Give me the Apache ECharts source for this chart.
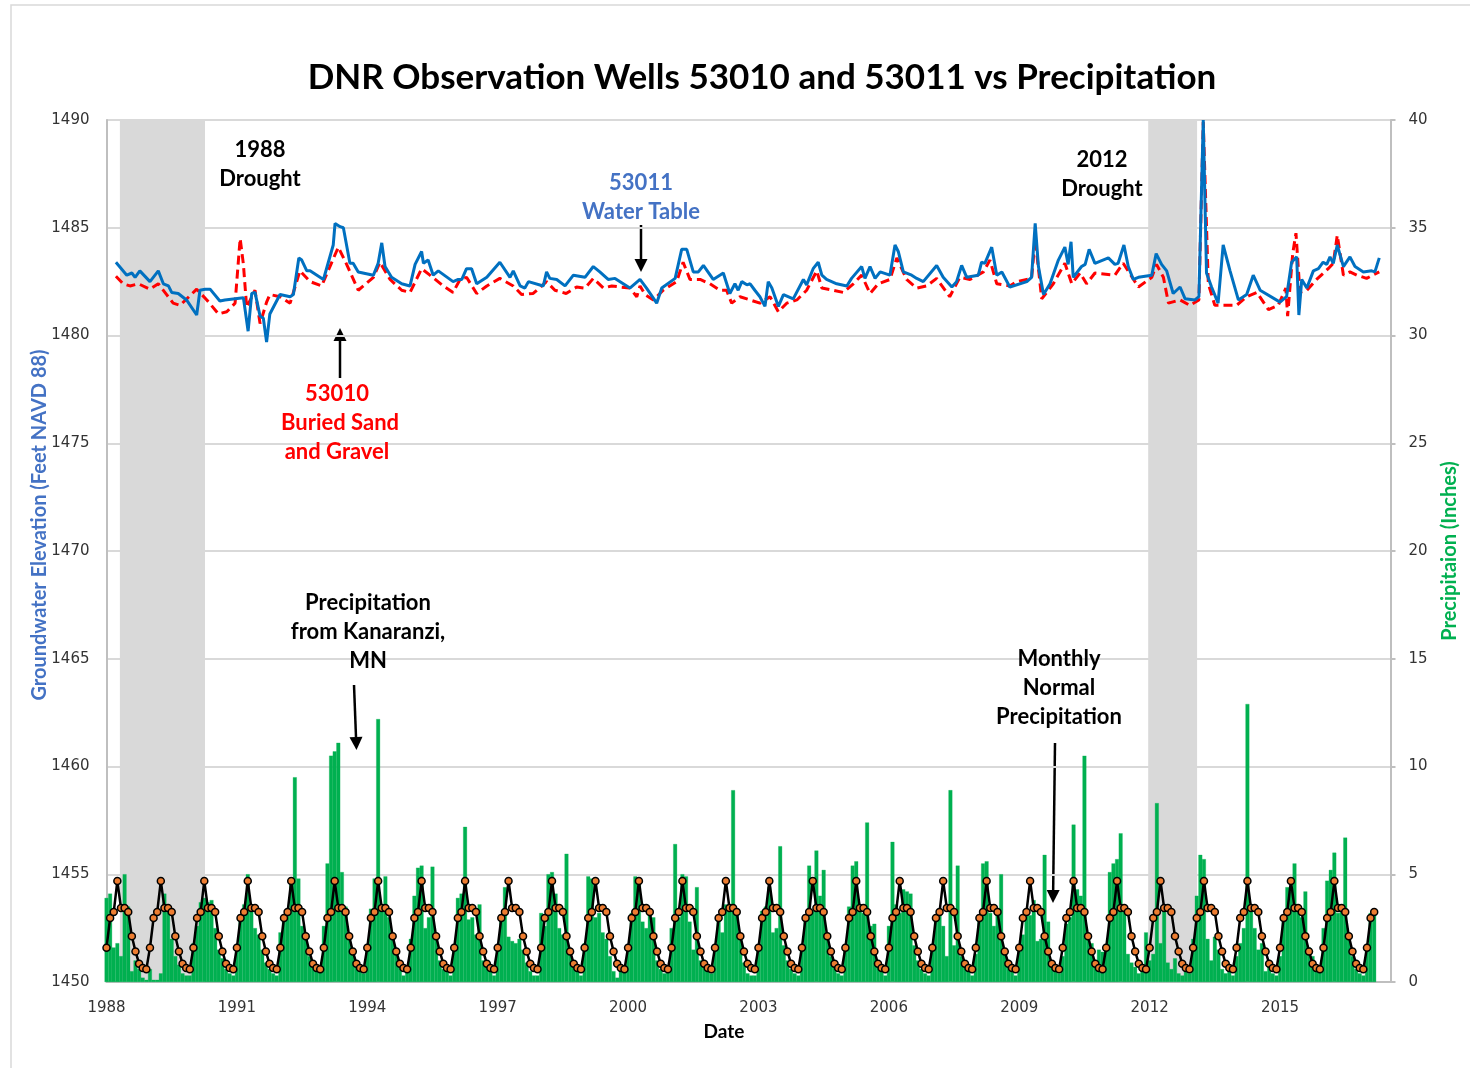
<!DOCTYPE html>
<html>
<head>
<meta charset="utf-8">
<title>DNR Observation Wells 53010 and 53011 vs Precipitation</title>
<script src="https://cdn.jsdelivr.net/npm/echarts/dist/echarts.min.js"></script>
<style>
html,body{margin:0;padding:0;background:#fff;}
#main{width:1470px;height:1068px;}
</style>
</head>
<body>
<div id="main"></div>
<script>
// x = months counted from March 1988 (0 = Mar 1988)
var yearLabels = ['1988','1991','1994','1997','2000','2003','2006','2009','2012','2015']

// monthly normal precipitation, Mar..Feb (inches)
var normalMonthly = [1.59, 2.97, 3.25, 4.69, 3.43, 3.43, 3.25, 2.12, 1.42, 0.85, 0.65, 0.59]

// monthly precipitation at Kanaranzi, one row per Mar..Feb year (inches)
var precip = [
  3.9, 4.1, 1.6, 1.8, 1.2, 5.0, 3.5, 0.5, 1.0, 0.6, 0.2, 0.1,   // 1988
  0.6, 0.1, 0.1, 0.4, 4.1, 3.3, 2.0, 1.2, 0.8, 0.4, 0.3, 0.3,   // 1989
  1.8, 2.6, 3.7, 3.9, 3.7, 3.8, 2.5, 1.5, 1.1, 0.6, 0.4, 0.3,   // 1990
  1.7, 3.1, 3.6, 5.0, 3.3, 2.5, 2.2, 1.5, 0.9, 0.6, 0.4, 0.3,   // 1991
  2.3, 2.8, 3.2, 4.8, 9.5, 4.8, 2.6, 2.0, 1.2, 0.8, 0.6, 0.5,   // 1992
  2.6, 5.5, 10.5, 10.7, 11.1, 5.1, 3.5, 2.0, 1.5, 0.9, 0.6, 0.4, // 1993
  1.6, 3.4, 4.8, 12.2, 3.6, 4.9, 3.0, 2.0, 1.5, 0.8, 0.3, 0.5,  // 1994
  2.0, 4.0, 5.3, 5.4, 2.5, 3.0, 5.35, 2.0, 1.0, 0.6, 0.5, 0.3,  // 1995
  1.5, 3.9, 4.1, 7.2, 2.9, 3.0, 2.2, 3.6, 1.0, 0.7, 0.5, 0.3,   // 1996
  1.5, 3.0, 4.4, 2.1, 1.9, 1.8, 2.0, 1.5, 0.9, 0.5, 0.3, 0.3,   // 1997
  3.2, 2.6, 5.0, 5.1, 4.1, 2.5, 2.2, 5.95, 1.3, 0.8, 0.6, 0.3,  // 1998
  1.8, 4.9, 4.8, 3.0, 3.2, 2.3, 2.0, 1.2, 0.5, 0.2, 0.7, 0.6,   // 1999
  1.5, 3.2, 4.9, 4.8, 2.8, 2.5, 3.1, 3.0, 1.0, 0.6, 0.4, 0.5,   // 2000
  2.5, 6.4, 3.0, 5.0, 4.9, 2.8, 1.5, 4.4, 1.0, 0.7, 0.5, 0.4,   // 2001
  1.5, 3.1, 2.3, 3.6, 3.3, 8.9, 3.2, 2.2, 0.9, 0.4, 0.3, 0.3,   // 2002
  1.5, 3.3, 3.5, 4.4, 2.3, 2.5, 6.3, 1.7, 1.0, 0.6, 0.4, 0.3,   // 2003
  1.7, 3.0, 5.4, 3.3, 6.1, 4.0, 5.2, 2.0, 1.2, 0.8, 0.4, 0.3,   // 2004
  1.7, 3.5, 5.4, 5.6, 3.4, 3.2, 7.4, 2.6, 2.7, 0.8, 0.5, 0.3,   // 2005
  2.6, 6.5, 3.6, 3.2, 4.3, 4.2, 4.1, 1.7, 1.0, 0.6, 0.4, 0.3,   // 2006
  1.5, 2.9, 3.4, 2.6, 1.2, 8.9, 1.7, 5.4, 1.2, 0.8, 0.5, 0.3,   // 2007
  1.3, 3.1, 5.5, 5.6, 3.2, 2.6, 3.4, 5.0, 1.5, 0.9, 0.5, 0.3,   // 2008
  1.4, 2.2, 3.3, 3.1, 3.8, 1.9, 2.0, 5.9, 2.8, 0.9, 0.6, 0.4,   // 2009
  1.2, 2.7, 3.0, 7.3, 4.3, 4.0, 10.5, 2.2, 1.8, 1.0, 1.5, 1.4,  // 2010
  1.5, 5.1, 5.5, 5.7, 6.9, 3.5, 1.3, 0.9, 0.7, 0.4, 0.5, 2.3,   // 2011
  1.0, 1.3, 8.3, 1.8, 3.6, 0.9, 0.6, 1.1, 0.4, 0.3, 0.5, 0.4,   // 2012
  2.0, 4.0, 5.9, 5.7, 2.0, 1.0, 2.1, 1.5, 0.6, 0.4, 0.5, 0.3,   // 2013
  1.2, 1.8, 2.5, 12.9, 3.3, 2.5, 1.5, 1.8, 0.5, 0.7, 0.4, 0.3,  // 2014
  1.2, 2.8, 4.4, 4.2, 5.5, 3.6, 3.0, 4.2, 1.6, 1.2, 0.6, 0.5,   // 2015
  2.5, 4.7, 5.2, 6.0, 3.2, 3.5, 6.7, 2.2, 1.2, 0.6, 0.4, 0.3,   // 2016
  1.5, 3.2, 3.2                                                 // 2017
]

// well 53011 (water table), [month, feet]
var well53011 = [
  [2.6,1483.4],[5.6,1482.8],[7.0,1482.9],[7.9,1482.7],[9.2,1483.0],[12.0,1482.5],[14.3,1483.0],[15.7,1482.4],
  [17.1,1482.3],[18.0,1482.0],[19.8,1481.95],[22.1,1481.65],[24.9,1480.95],[25.8,1482.1],[27.2,1482.15],[28.6,1482.15],
  [31.3,1481.6],[32.7,1481.65],[37.8,1481.75],[39.1,1480.2],[40.1,1481.95],[41.0,1482.0],[42.4,1480.9],[43.3,1480.8],
  [44.2,1479.7],[45.1,1481.0],[47.9,1481.9],[50.7,1481.8],[51.6,1481.9],[53.1,1483.6],[53.9,1483.5],[55.3,1483.0],
  [56.2,1483.0],[59.9,1482.6],[62.6,1484.2],[63.1,1485.2],[64.5,1485.05],[65.4,1485.0],[67.2,1483.35],[68.1,1483.35],
  [69.5,1482.95],[73.7,1482.8],[75.0,1483.35],[76.0,1484.3],[76.9,1483.2],[78.7,1482.7],[81.5,1482.4],[83.8,1482.3],
  [85.2,1483.3],[87.0,1483.9],[87.5,1483.35],[88.8,1483.5],[90.2,1482.8],[91.6,1483.0],[95.7,1482.5],[97.1,1482.6],
  [98.1,1482.6],[99.4,1483.1],[100.8,1483.1],[102.2,1482.4],[105.0,1482.7],[108.6,1483.4],[111.4,1482.7],[112.3,1483.0],
  [114.2,1482.3],[115.5,1482.2],[116.5,1482.5],[120.6,1482.3],[121.5,1482.95],[122.4,1482.65],[124.3,1482.6],[126.6,1482.3],
  [128.9,1482.8],[132.1,1482.7],[134.4,1483.2],[136.2,1482.95],[138.5,1482.6],[140.4,1482.65],[144.5,1482.2],[147.3,1482.6],
  [149.1,1482.2],[151.9,1481.5],[153.3,1482.2],[157.0,1482.65],[158.8,1484.0],[160.2,1484.0],[162.0,1482.95],[163.4,1482.95],
  [164.8,1483.25],[167.5,1482.6],[170.3,1482.9],[172.1,1481.95],[173.5,1482.4],[174.4,1482.1],[175.4,1482.5],[176.8,1482.35],
  [177.7,1482.4],[179.0,1482.1],[180.4,1481.8],[181.8,1481.35],[182.7,1482.5],[183.7,1482.2],[185.5,1481.35],[186.9,1481.9],
  [189.6,1481.7],[192.4,1482.6],[193.3,1482.35],[195.1,1483.1],[196.5,1483.4],[197.5,1482.8],[198.8,1482.6],[201.6,1482.4],
  [204.4,1482.3],[205.7,1482.65],[208.5,1483.2],[209.4,1482.65],[210.8,1483.2],[212.2,1482.65],[213.6,1482.95],[216.3,1482.8],
  [217.7,1484.2],[218.6,1483.9],[220.0,1482.95],[222.3,1482.8],[223.7,1482.65],[225.5,1482.5],[229.2,1483.25],[231.0,1482.7],
  [233.4,1482.25],[234.7,1482.5],[236.1,1483.25],[237.5,1482.7],[240.7,1482.8],[241.6,1483.4],[242.5,1483.35],[244.4,1484.1],
  [245.8,1482.8],[247.2,1482.95],[249.4,1482.25],[254.1,1482.5],[255.4,1482.7],[256.4,1485.2],[257.3,1483.2],[258.7,1481.9],
  [260.5,1482.4],[262.8,1483.5],[264.6,1484.1],[265.5,1483.3],[266.3,1484.35],[266.9,1482.7],[269.2,1483.2],[270.2,1483.3],
  [271.3,1484.0],[272.9,1483.35],[276.6,1483.6],[278.4,1483.3],[279.3,1483.35],[280.9,1484.2],[282.1,1483.2],[283.5,1482.6],
  [284.9,1482.7],[288.6,1482.8],[289.8,1483.8],[291.3,1483.3],[292.7,1483.0],[294.5,1481.95],[296.4,1482.25],[297.8,1481.7],
  [300.5,1481.65],[301.6,1481.8],[302.8,1490.0],[303.7,1482.9],[305.1,1482.25],[306.9,1481.5],[308.3,1484.2],[310.2,1483.0],
  [312.5,1481.65],[314.8,1481.9],[316.6,1482.8],[318.5,1482.1],[324.0,1481.55],[325.8,1481.8],[327.2,1483.4],[328.6,1483.65],
  [329.2,1480.95],[330.0,1482.6],[331.4,1482.2],[333.2,1483.0],[334.6,1483.1],[335.9,1483.4],[336.9,1483.3],[337.8,1483.65],
  [338.7,1483.35],[339.8,1484.2],[341.5,1483.2],[343.3,1483.65],[344.7,1483.2],[347.0,1482.95],[349.3,1483.0],[350.2,1482.95],
  [351.4,1483.6]
]

// well 53010 (buried sand and gravel), [month, feet]
var well53010 = [
  [2.6,1482.75],[4.6,1482.4],[6.5,1482.3],[8.8,1482.4],[12.0,1482.15],[14.3,1482.4],[16.6,1481.9],[18.4,1481.5],
  [20.3,1481.4],[24.9,1482.15],[27.7,1481.65],[30.9,1481.0],[33.2,1481.1],[35.5,1481.5],[36.9,1484.5],[37.8,1483.3],
  [38.7,1481.3],[41.0,1482.1],[42.4,1480.55],[44.2,1481.55],[45.1,1481.9],[47.9,1481.8],[50.7,1481.5],[53.4,1483.0],
  [56.2,1482.5],[59.4,1482.3],[64.0,1484.1],[66.3,1483.3],[69.5,1482.1],[73.7,1482.7],[75.5,1483.4],[78.3,1482.6],
  [81.5,1482.1],[83.8,1482.0],[87.0,1483.1],[89.3,1482.8],[93.0,1482.3],[95.7,1482.0],[97.6,1482.6],[99.4,1482.7],
  [102.2,1481.95],[105.0,1482.3],[108.6,1482.65],[112.3,1482.3],[114.6,1481.9],[117.8,1481.95],[121.5,1482.5],[123.8,1482.1],
  [126.9,1481.95],[129.8,1482.25],[132.1,1482.2],[134.4,1482.65],[137.2,1482.2],[139.5,1482.3],[141.8,1482.25],[144.5,1482.2],
  [146.4,1481.8],[147.3,1482.3],[148.7,1481.9],[151.0,1481.65],[153.7,1482.1],[157.4,1482.5],[159.2,1483.4],[161.1,1482.6],
  [163.9,1482.6],[166.6,1482.4],[169.4,1482.1],[171.2,1482.1],[172.6,1481.5],[174.9,1481.8],[177.7,1481.65],[180.4,1481.5],
  [183.2,1481.8],[185.5,1481.1],[187.8,1481.5],[190.6,1481.65],[193.3,1482.1],[196.1,1483.0],[197.5,1482.2],[200.7,1482.1],
  [203.4,1482.0],[206.2,1482.4],[208.5,1482.8],[210.8,1481.95],[213.1,1482.4],[216.3,1482.6],[218.2,1483.6],[220.9,1482.6],
  [223.7,1482.2],[226.4,1482.3],[229.2,1482.65],[232.8,1481.8],[235.6,1482.7],[238.4,1482.6],[242.1,1482.95],[243.9,1483.5],
  [245.8,1482.4],[249.4,1482.3],[251.3,1482.5],[255.4,1482.65],[256.4,1484.5],[258.2,1481.7],[261.4,1482.4],[264.6,1483.35],
  [266.5,1482.4],[268.8,1482.9],[270.6,1482.4],[272.9,1482.9],[278.4,1482.8],[280.7,1483.35],[284.9,1482.25],[288.6,1482.7],
  [289.9,1483.3],[291.8,1482.7],[293.2,1481.5],[296.4,1481.65],[299.1,1481.4],[301.6,1481.65],[302.8,1489.9],[304.2,1482.4],
  [306.0,1481.4],[312.0,1481.4],[314.8,1481.8],[317.6,1482.0],[320.8,1481.2],[323.5,1481.4],[325.6,1482.2],[326.1,1480.9],
  [327.5,1483.8],[328.4,1484.75],[329.5,1482.0],[331.4,1482.1],[334.1,1482.6],[337.3,1483.1],[338.7,1483.35],[339.8,1484.65],
  [341.5,1482.8],[343.3,1482.95],[345.2,1482.8],[347.9,1482.65],[349.6,1482.8],[351.4,1482.95]
]

// drought periods (month ranges)
var droughtMonths = [[3.7, 27.2], [287.6, 301.1]]

var precipData = precip.map(function(v, i){ return [i, v] })
var normalData = precip.map(function(v, i){ return [i, normalMonthly[i % 12]] })

var myChart = echarts.init(document.getElementById('main'))

var txtFont = 'Lato, "Open Sans", sans-serif'
function label(x, y, text, color, size){
  return {
    type: 'text', x: x, y: y, silent: true, z: 50,
    style: { text: text, fill: color || '#000', font: 'bold ' + (size || 22) + 'px ' + txtFont,
             textAlign: 'center', textVerticalAlign: 'middle' }
  }
}
// black arrow, tip at (x2, y2)
function arrow(x1, y1, x2, y2){
  var dx = x2 - x1, dy = y2 - y1
  var len = Math.sqrt(dx*dx + dy*dy)
  var ux = dx/len, uy = dy/len
  var hl = 13, hw = 6.5
  var bx = x2 - ux*hl, by = y2 - uy*hl
  return {
    type: 'group', silent: true, z: 50,
    children: [
      { type: 'line', shape: { x1: x1, y1: y1, x2: bx, y2: by }, style: { stroke: '#000', lineWidth: 2.5 } },
      { type: 'polygon', shape: { points: [[x2, y2], [bx - uy*hw, by + ux*hw], [bx + uy*hw, by - ux*hw]] },
        style: { fill: '#000' } }
    ]
  }
}

var tickFont = { color: '#333', fontSize: 15, fontFamily: '"DejaVu Sans", sans-serif' }

var option = {
  backgroundColor: '#fff',
  animation: false,
  grid: { left: 106.5, right: 79.5, top: 120, bottom: 86 },
  xAxis: {
    type: 'value',
    min: 0,
    max: 354.5,
    interval: 36,
    splitLine: { show: false },
    axisTick: { show: false },
    axisLine: { show: true, lineStyle: { color: '#BFBFBF', width: 2 } },
    axisLabel: Object.assign({
      margin: 19,
      showMaxLabel: false,
      formatter: function(v){ return v % 36 === 0 ? yearLabels[v / 36] : '' }
    }, tickFont)
  },
  yAxis: [
    {
      type: 'value', min: 1450, max: 1490, interval: 5,
      axisLine: { show: true, lineStyle: { color: '#BFBFBF', width: 2 } },
      axisTick: { show: false },
      splitLine: { show: true, lineStyle: { color: '#D9D9D9', width: 2 } },
      axisLabel: Object.assign({ margin: 17, formatter: function(v){ return String(v) } }, tickFont)
    },
    {
      type: 'value', min: 0, max: 40, interval: 5, position: 'right',
      axisLine: { show: true, lineStyle: { color: '#BFBFBF', width: 2 } },
      axisTick: { show: true, inside: false, length: 5, lineStyle: { color: '#BFBFBF', width: 2 } },
      splitLine: { show: false },
      axisLabel: Object.assign({ margin: 18, formatter: function(v){ return String(v) } }, tickFont)
    }
  ],
  series: [
    {
      name: 'Precipitation',
      type: 'bar',
      yAxisIndex: 1,
      data: precipData,
      barWidth: 3.8,
      z: 2,
      itemStyle: { color: '#00B050', borderColor: '#00B050', borderWidth: 0.3 },
      markArea: {
        silent: true,
        itemStyle: { color: '#D9D9D9' },
        data: droughtMonths.map(function(r){ return [{ xAxis: r[0] }, { xAxis: r[1] }] })
      }
    },
    {
      name: 'Monthly Normal',
      type: 'line',
      yAxisIndex: 1,
      data: normalData,
      z: 3,
      symbol: 'circle',
      symbolSize: 7,
      showAllSymbol: true,
      lineStyle: { color: '#000', width: 2.5 },
      itemStyle: { color: '#ED7D31', borderColor: '#000', borderWidth: 1.5 }
    },
    {
      name: '53010',
      type: 'line',
      yAxisIndex: 0,
      data: well53010,
      z: 4,
      symbol: 'none',
      lineStyle: { color: '#FF0000', width: 3, type: [9, 5] }
    },
    {
      name: '53011',
      type: 'line',
      yAxisIndex: 0,
      data: well53011,
      z: 5,
      symbol: 'none',
      lineStyle: { color: '#0070C0', width: 3 }
    }
  ],
  graphic: [
    { type: 'rect', silent: true, z: 0, shape: { x: 11, y: 5, width: 1500, height: 1100 },
      style: { fill: 'none', stroke: '#D9D9D9', lineWidth: 1.5 } },
    label(762, 78, 'DNR Observation Wells 53010 and 53011 vs Precipitation', '#000', 35),
    label(260, 150, '1988'), label(260, 179, 'Drought'),
    label(1102, 160, '2012'), label(1102, 189, 'Drought'),
    label(641, 183, '53011', '#4472C4'), label(641, 212, 'Water Table', '#4472C4'),
    label(337, 394, '53010', '#FF0000'), label(340, 423, 'Buried Sand', '#FF0000'), label(337, 452, 'and Gravel', '#FF0000'),
    label(368, 603, 'Precipitation'), label(368, 632, 'from Kanaranzi,'), label(368, 661, 'MN'),
    label(1059, 659, 'Monthly'), label(1059, 688, 'Normal'), label(1059, 717, 'Precipitation'),
    arrow(641, 225, 641, 272),
    arrow(340, 378, 340, 328),
    arrow(354, 685, 356.5, 750),
    arrow(1055, 743, 1053, 903),
    label(724, 1032, 'Date', '#000', 19),
    { type: 'text', x: 40, y: 525, rotation: Math.PI / 2, silent: true,
      style: { text: 'Groundwater Elevation (Feet NAVD 88)', fill: '#4472C4', font: 'bold 20px ' + txtFont,
               textAlign: 'center', textVerticalAlign: 'middle' } },
    { type: 'text', x: 1450, y: 551, rotation: Math.PI / 2, silent: true,
      style: { text: 'Precipitaion (Inches)', fill: '#00B050', font: 'bold 20px ' + txtFont,
               textAlign: 'center', textVerticalAlign: 'middle' } }
  ]
}
myChart.setOption(option)

window.addEventListener('resize', function(){
  myChart.resize()
})
</script>
</body>
</html>
